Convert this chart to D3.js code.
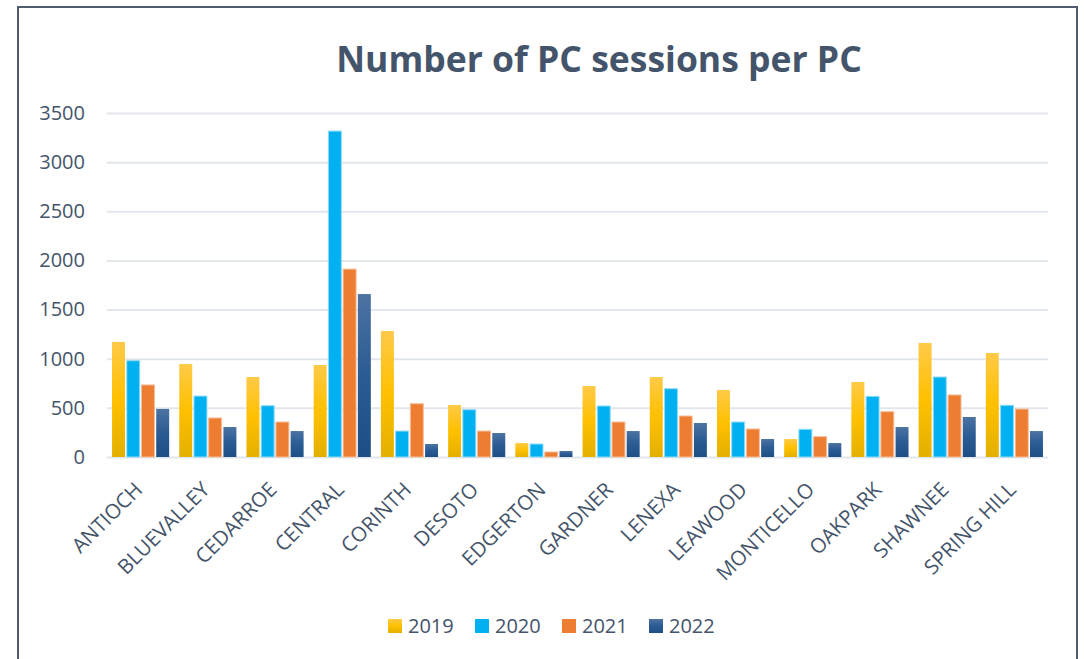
<!DOCTYPE html>
<html>
<head>
<meta charset="utf-8">
<script src="https://cdn.jsdelivr.net/npm/d3@7"></script>
<style>
  body { margin: 0; background: #fff; }
  svg { display: block; font-family: "Open Sans", sans-serif; }
</style>
</head>
<body>
<svg id="chart" width="1084" height="659"></svg>
<script>
const branches = ["ANTIOCH", "BLUEVALLEY", "CEDARROE", "CENTRAL", "CORINTH", "DESOTO", "EDGERTON",
    "GARDNER", "LENEXA", "LEAWOOD", "MONTICELLO", "OAKPARK", "SHAWNEE", "SPRING HILL"];
const years = ["2019", "2020", "2021", "2022"];

const v2019 = [1171, 946, 814, 936, 1282, 529, 142, 722, 814, 682, 183, 763, 1160, 1058];
const v2020 = [980, 620, 522, 3316, 264, 481, 132, 519, 695, 356, 282, 617, 814, 526];
const v2021 = [733, 397, 356, 1912, 542, 264, 51, 356, 417, 285, 207, 461, 631, 488];
const v2022 = [489, 305, 264, 1658, 132, 244, 61, 264, 346, 183, 142, 305, 407, 264];
const yTicks = [0, 500, 1000, 1500, 2000, 2500, 3000, 3500];

const series = [v2019, v2020, v2021, v2022];
const data = branches.map((b, i) => ({ name: b, values: years.map((y, j) => ({ year: y, value: series[j][i] })) }));

const svg = d3.select("#chart");
const textColor = "#44546a";

// outer frame
svg.append("rect")
    .attr("x", 18).attr("y", 7)
    .attr("width", 1059).attr("height", 700)
    .attr("fill", "none")
    .attr("stroke", "#4f5b6e")
    .attr("stroke-width", 2);

// gradients
const defs = svg.append("defs");
function grad(id, stops) {
    const g = defs.append("linearGradient").attr("id", id)
        .attr("x1", 0).attr("y1", 0).attr("x2", 0).attr("y2", 1);
    stops.forEach(s => g.append("stop").attr("offset", s[0]).attr("stop-color", s[1]));
}
grad("g2019", [[0, "#ffca47"], [0.5, "#ffc000"], [1, "#e3b000"]]);
grad("g2020", [[0, "#00b0f0"], [1, "#00b0f0"]]);
grad("g2021", [[0, "#ed7d31"], [1, "#ed7d31"]]);
grad("g2022", [[0, "#4d73a3"], [0.5, "#2a5b93"], [1, "#1d4f86"]]);

const strokes = { "2019": "none", "2020": "#8fdcf8", "2021": "#f6bd98", "2022": "none" };

const x0 = d3.scaleBand().domain(branches).range([107, 1048]).paddingInner(0.15).paddingOuter(0.075);
const x1 = d3.scaleBand().domain(years).range([0, x0.bandwidth()]).paddingInner(0.12);
const y = d3.scaleLinear().domain([0, 3500]).range([457, 113]);

// gridlines
svg.append("g")
    .attr("transform", "translate(107,0)")
    .call(d3.axisLeft(y).tickValues(yTicks).tickSize(-941).tickFormat(""))
    .call(g => g.select(".domain").remove())
    .selectAll("line")
    .attr("stroke", "#e2e6ed")
    .attr("stroke-width", 2);

// y labels
svg.append("g")
    .attr("transform", "translate(85,0)")
    .call(d3.axisLeft(y).tickValues(yTicks).tickSize(0).tickPadding(0).tickFormat(d3.format("d")))
    .call(g => g.select(".domain").remove())
    .selectAll("text")
    .attr("fill", textColor)
    .style("font-size", "20px")
    .style("font-family", "Open Sans, sans-serif");

// bars
const groups = svg.append("g").selectAll("g")
    .data(data).enter().append("g")
    .attr("transform", d => `translate(${x0(d.name)},0)`);

groups.selectAll("rect")
    .data(d => d.values).enter().append("rect")
    .attr("x", d => x1(d.year))
    .attr("y", d => y(d.value))
    .attr("width", x1.bandwidth())
    .attr("height", d => y(0) - y(d.value))
    .attr("fill", d => `url(#g${d.year})`)
    .attr("stroke", d => strokes[d.year])
    .attr("stroke-width", 1);

// x labels
svg.append("g")
    .attr("transform", "translate(0,457)")
    .call(d3.axisBottom(x0).tickSize(0).tickPadding(0))
    .call(g => g.select(".domain").remove())
    .selectAll("text")
    .attr("fill", textColor)
    .style("font-size", "20.5px")
    .style("font-family", "Open Sans, sans-serif")
    .attr("text-anchor", "end")
    .attr("dy", 0)
    .attr("transform", "translate(3,34) rotate(-45)");

// title
svg.append("text")
    .attr("x", 599).attr("y", 72)
    .attr("text-anchor", "middle")
    .attr("fill", textColor)
    .style("font-size", "35.5px")
    .style("font-weight", "bold")
    .style("font-family", "Open Sans, sans-serif")
    .text("Number of PC sessions per PC");

// legend
const legend = svg.append("g").attr("transform", "translate(388,619)");
const item = legend.selectAll("g").data(years).enter().append("g")
    .attr("transform", (d, i) => `translate(${i * 87},0)`);
item.append("rect")
    .attr("width", 14).attr("height", 14)
    .attr("fill", d => `url(#g${d})`);
item.append("text")
    .attr("x", 20).attr("y", 14)
    .attr("fill", textColor)
    .style("font-size", "20px")
    .text(d => d);
</script>
</body>
</html>
